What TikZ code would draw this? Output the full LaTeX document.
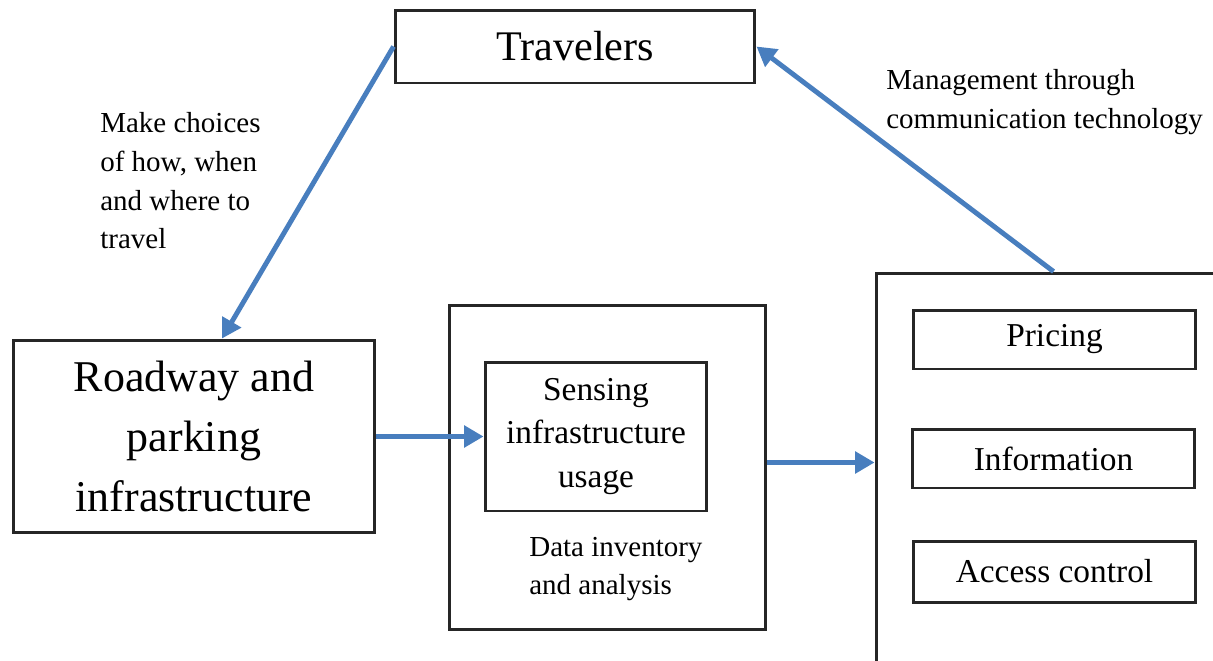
\documentclass[tikz,border=0pt]{standalone}
\usepackage{fontspec}
\setmainfont{Liberation Serif}
\usepackage{xcolor}
\usepackage{tikz}
\usetikzlibrary{arrows.meta, positioning, calc}

\definecolor{linkblue}{RGB}{72,126,190}

\begin{document}
\begin{tikzpicture}[
    x=0.02cm, y=-0.02cm,
    bigbox/.style={rectangle, draw=black!85, line width=1.7pt, fill=none, inner sep=0pt, align=center},
    itembox/.style={rectangle, draw=black!85, line width=1.7pt, minimum width=5.66cm, minimum height=1.18cm, font=\fontsize{19}{24}\selectfont, align=center},
    note/.style={anchor=west, inner sep=0pt, align=left, font=\fontsize{16.5}{22}\selectfont},
    arr/.style={-{Triangle[length=11pt, width=12pt]}, line width=2.8pt, linkblue}
]
\useasboundingbox (0,0) rectangle (1213,660);

% Top
\node[bigbox, minimum width=7.2cm, minimum height=1.46cm, font=\fontsize{24}{30}\selectfont] (trav) at (575,46.5) {Travelers};

% Infrastructure
\node[bigbox, minimum width=7.24cm, minimum height=3.86cm, font=\fontsize{25}{34}\selectfont] (road) at (194,436.5) {Roadway and\\parking\\infrastructure};

% Data
\node[bigbox, minimum width=6.34cm, minimum height=6.5cm] (data) at (607.5,467.5) {};
\node[bigbox, minimum width=4.44cm, minimum height=2.98cm, font=\fontsize{19}{25}\selectfont] (sense) at (596,436.5) {Sensing\\infrastructure\\usage};
\node[note] (datalab) at (529,569) {Data inventory\\and analysis};

% Management (runs off the page)
\node[bigbox, minimum width=7.68cm, minimum height=8.94cm] (mgmt) at (1068,496.5) {};
\node[itembox] (price) at (1054.5,339.5) {Pricing};
\node[itembox] (info) at (1053.5,458.5) {Information};
\node[itembox, minimum height=1.22cm] (access) at (1054.5,571.5) {Access control};

% Labels
\node[note] (choices) at (100,181) {Make choices\\of how, when\\and where to\\travel};
\node[note] (comm) at (886,102) {Management through\\communication technology};

% Links
\coordinate (dout) at ($(data.east)+(0,-5)$);
\coordinate (mtop) at ($(mgmt.north west)+(179,0)$);
\draw[arr] (trav.west) -- ($(road.north)+(28,0)$);
\draw[arr] (mtop) -- (trav.east);
\draw[arr] (road.east) -- (sense.west);
\draw[arr] (dout) -- (dout -| mgmt.west);

\end{tikzpicture}
\end{document}
